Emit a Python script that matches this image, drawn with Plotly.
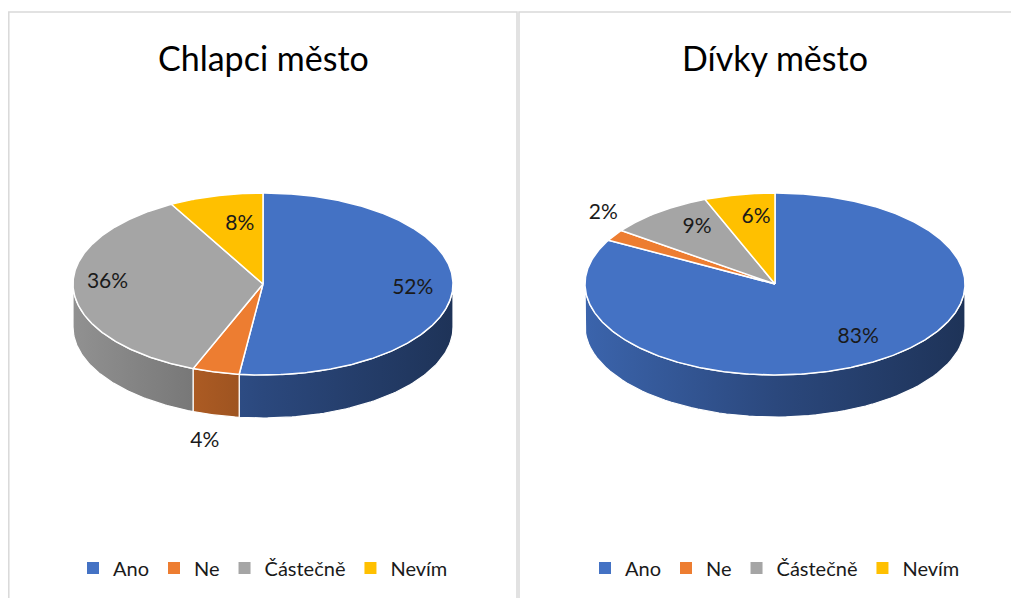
import numpy as np
import plotly.graph_objects as go

# ---- data ----
categories = ["Ano", "Ne", "Částečně", "Nevím"]
boys_values = [52, 4, 36, 8]
girls_values = [83, 2, 9, 6]
chart_titles = ["Chlapci město", "Dívky město"]

# ---- style ----
colors = ["#4472C4", "#ED7D31", "#A5A5A5", "#FFC000"]
FONT = "Lato"
W, H = 1019, 598
OFF = 8  # page body margin

charts = [
    dict(values=boys_values, title=chart_titles[0], cx=263, cy=284, rx=190, ry=91, depth=43,
         label_r=[(0.79, 0.79), (1.23, 1.30), (0.82, -0.3), (0.49, 0.67)], legend="legend"),
    dict(values=girls_values, title=chart_titles[1], cx=775, cy=284, rx=190, ry=91, depth=42,
         label_r=[(0.86, 0.69), (1.07, 1.45), (0.67, 0.78), (0.53, 0.74)], legend="legend2"),
]


def hex_rgb(h):
    h = h.lstrip("#")
    return tuple(int(h[i:i + 2], 16) for i in (0, 2, 4))


def shade(h, f):
    r, g, b = hex_rgb(h)
    return f"rgb({int(r * f)},{int(g * f)},{int(b * f)})"


fig = go.Figure()

for ch in charts:
    vals = np.array(ch["values"], dtype=float)
    cx, cy, rx, ry, d = ch["cx"], ch["cy"], ch["rx"], ch["ry"], ch["depth"]
    ends = np.cumsum(vals) / vals.sum() * 360.0
    starts = np.concatenate([[0.0], ends[:-1]])

    def pt(th, fx=1.0, fy=1.0, dy=0.0):
        t = np.radians(th)
        return cx + rx * fx * np.sin(t), cy - ry * fy * np.cos(t) + dy

    # side walls (front half: 90..270 deg)
    for i, (a1, a2) in enumerate(zip(starts, ends)):
        lo, hi = max(a1, 90.0), min(a2, 270.0)
        if hi <= lo:
            continue
        th = np.linspace(lo, hi, 80)
        xt, yt = pt(th)
        xb, yb = pt(th[::-1], dy=d)
        xs = np.concatenate([xt, xb, xt[:1]])
        ys = np.concatenate([yt, yb, yt[:1]])
        c = colors[i]
        fig.add_trace(go.Scatter(
            x=xs, y=ys, mode="lines", fill="toself",
            line=dict(color="white", width=1.2),
            fillcolor=shade(c, 0.6),
            fillgradient=dict(type="horizontal", start=cx - rx, stop=cx + rx,
                              colorscale=[[0, shade(c, 0.88)], [0.5, shade(c, 0.64)], [1, shade(c, 0.45)]]),
            showlegend=False, hoverinfo="skip"))

    # top face slices
    for i, (a1, a2) in enumerate(zip(starts, ends)):
        th = np.linspace(a1, a2, max(int((a2 - a1) * 2), 4))
        xa, ya = pt(th)
        xs = np.concatenate([[cx], xa, [cx]])
        ys = np.concatenate([[cy], ya, [cy]])
        fig.add_trace(go.Scatter(
            x=xs, y=ys, mode="lines", fill="toself",
            line=dict(color="white", width=1.5), fillcolor=colors[i],
            showlegend=False, hoverinfo="skip"))

    # labels
    lx, ly, lt = [], [], []
    for i, (a1, a2) in enumerate(zip(starts, ends)):
        mid = (a1 + a2) / 2
        fx, fy = ch["label_r"][i]
        x, y = pt(mid, fx, fy)
        if fx > 1 and 90 <= mid <= 270:
            y += d
        lx.append(x)
        ly.append(y)
        lt.append(f"{vals[i] / vals.sum() * 100:.0f}%")
    fig.add_trace(go.Scatter(x=lx, y=ly, mode="text", text=lt,
                             textfont=dict(family=FONT, size=21, color="#1a1a1a"),
                             showlegend=False, hoverinfo="skip"))

    # title
    fig.add_annotation(x=cx, y=57, text=ch["title"], showarrow=False,
                       font=dict(family=FONT, size=34, color="#000000"),
                       xanchor="center", yanchor="middle")

    # legend entries
    for i, cat in enumerate(categories):
        fig.add_trace(go.Scatter(x=[None], y=[None], mode="markers", name=cat,
                                 marker=dict(symbol="square", size=8, color=colors[i]),
                                 legend=ch["legend"], hoverinfo="skip"))

# chart frames
fig.add_shape(type="rect", x0=8.8, y0=12, x1=517, y1=640, line=dict(color="#d9d9d9", width=1.5))
fig.add_shape(type="rect", x0=519, y0=12, x1=1060, y1=640, line=dict(color="#d9d9d9", width=1.5))

PW, PH = W - OFF, H - OFF
legend_common = dict(orientation="h", xanchor="center", yanchor="middle",
                     y=(H - 568) / PH, bgcolor="rgba(0,0,0,0)",
                     font=dict(family=FONT, size=20, color="#1a1a1a"),
                     itemsizing="constant", itemwidth=30, tracegroupgap=0)

fig.update_layout(
    width=PW, height=PH,
    margin=dict(l=0, r=0, t=0, b=0),
    paper_bgcolor="white", plot_bgcolor="white",
    xaxis=dict(range=[OFF, W], visible=False, fixedrange=True),
    yaxis=dict(range=[H, OFF], visible=False, fixedrange=True),
    legend=dict(x=(263 - OFF) / PW, **legend_common),
    legend2=dict(x=(775 - OFF) / PW, **legend_common),
    showlegend=True,
)

fig.write_html("out.html")
